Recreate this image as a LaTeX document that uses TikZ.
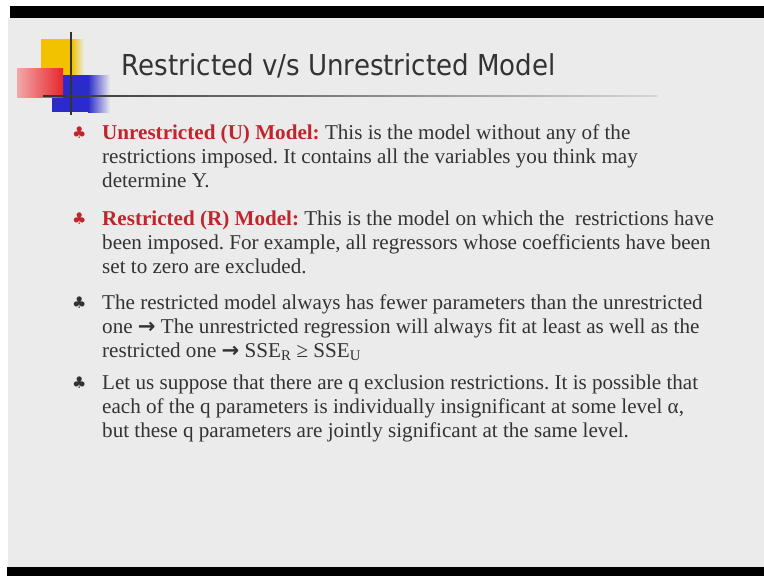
\documentclass[tikz,border=0pt]{standalone}
\usepackage{fontspec}
\setmainfont{Liberation Serif}
\newfontfamily\titlefont{DejaVu Sans}
\newfontfamily\symfont{DejaVu Sans}
\definecolor{slidebg}{HTML}{EBEBEB}
\definecolor{txt}{HTML}{333333}
\definecolor{redtxt}{HTML}{C0252B}
\definecolor{logoyellow}{HTML}{F2C200}
\definecolor{logored}{HTML}{E8262B}
\definecolor{logopink}{HTML}{F2A8A8}
\definecolor{logoblue}{HTML}{2B2BCB}
\newcommand{\arr}{{\symfont\bfseries →}}
\newcommand{\club}[1]{{\color{#1}\symfont\fontsize{16}{16}\selectfont ♣}}
\begin{document}
\frenchspacing
\begin{tikzpicture}[x=1pt,y=-1pt,
  body/.style={anchor=base west,inner sep=0pt,text=txt,font=\fontsize{21.1}{24}\selectfont},
  bul/.style={anchor=base west,inner sep=0pt}]
\useasboundingbox (0,0) rectangle (764,576);
\fill[white] (0,0) rectangle (764,576);
\fill[slidebg] (8,18) rectangle (764,567);
\fill[black] (10,6) rectangle (764,18);
\fill[black] (7,567) rectangle (764,576);
% logo
\fill[logoyellow] (41,39) rectangle (72,75);
\shade[left color=logoyellow,right color=slidebg] (72,39) rectangle (84,75);
\fill[logoblue] (52,75) rectangle (88,112);
\shade[left color=logoblue,right color=slidebg] (88,75) rectangle (110,112);
\shade[left color=logopink,right color=logored] (17,68) rectangle (63,97);
\draw[txt,line width=1.4pt] (71,32) -- (71,115);
\shade[left color=txt,right color=slidebg!80!gray] (43,95.3) rectangle (657,96.8);
% title
\node[anchor=base west,inner sep=0pt,text=txt,font=\titlefont\fontsize{28.8}{30}\selectfont] (title) at (121.7,75) {\scalebox{0.906}[1]{Restricted v/s Unrestricted Model}};
% item 1
\node[bul] (b1) at (72,138) {\club{redtxt}};
\node[body] (l11) at (102,139) {{\color{redtxt}\bfseries Unrestricted (U) Model:} This is the model without any of the};
\node[body] (l12) at (102,163) {restrictions imposed. It contains all the variables you think may};
\node[body] (l13) at (102,187) {determine Y.};
% item 2
\node[bul] (b2) at (72,224) {\club{redtxt}};
\node[body] (l21) at (102,225) {{\color{redtxt}\bfseries Restricted (R) Model:} This is the model on which the \ restrictions have};
\node[body] (l22) at (102,249) {been imposed. For example, all regressors whose coefficients have been};
\node[body] (l23) at (102,273) {set to zero are excluded.};
% item 3
\node[bul] (b3) at (72,308) {\club{txt}};
\node[body] (l31) at (102,309) {The restricted model always has fewer parameters than the unrestricted};
\node[body] (l32) at (102,333) {one \arr{} The unrestricted regression will always fit at least as well as the};
\node[body] (l33) at (102,357) {restricted one \arr{} SSE\textsubscript{R} ≥ SSE\textsubscript{U}};
% item 4
\node[bul] (b4) at (72,388) {\club{txt}};
\node[body] (l41) at (102,389) {Let us suppose that there are q exclusion restrictions. It is possible that};
\node[body] (l42) at (102,413) {each of the q parameters is individually insignificant at some level α,};
\node[body] (l43) at (102,437) {but these q parameters are jointly significant at the same level.};
\end{tikzpicture}
\end{document}
